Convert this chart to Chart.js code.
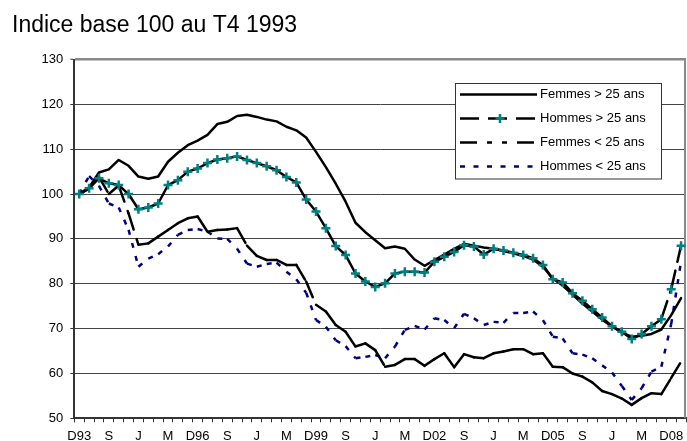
<!DOCTYPE html>
<html lang="fr">
<head>
<meta charset="UTF-8">
<title>Indice base 100 au T4 1993</title>
<script src="https://cdn.jsdelivr.net/npm/chart.js"></script>
<style>
  html, body { margin: 0; padding: 0; background: #fff; overflow: hidden; }
</style>
</head>
<body>
<!-- le canevas dépasse un peu à droite : le bord du tracé tombe au bord de la fenêtre -->
<canvas id="graphique" width="693" height="441"></canvas>

<script>
// libellés de l'axe horizontal : un trimestre sur trois, de D93 à D08
const etiquettes = ['D93', 'S', 'J', 'M', 'D96', 'S', 'J', 'M', 'D99', 'S', 'J', 'M',
                    'D02', 'S', 'J', 'M', 'D05', 'S', 'J', 'M', 'D08'];
// 62 trimestres : T4 1993 -> T1 2009
const nbTrimestres = 62;

const femmesPlus25 = [100, 101.5, 104.8, 105.5, 107.6, 106.3, 103.9, 103.4, 103.9, 107.2,
  109.2, 110.9, 111.9, 113.2, 115.6, 116.1, 117.4, 117.7, 117.2, 116.6,
  116.2, 115.0, 114.2, 112.6, 109.4, 106.0, 102.3, 98.3, 93.6, 91.5,
  89.7, 87.9, 88.3, 87.8, 85.4, 84.0, 85.3, 86.5, 87.8, 88.9,
  88.5, 88.1, 87.8, 87.3, 86.8, 86.2, 85.4, 83.8, 81.2, 79.6,
  77.6, 75.6, 73.8, 72.0, 70.5, 69.1, 68.2, 68.4, 68.8, 69.8,
  73.0, 76.8];

const hommesPlus25 = [100, 101.3, 103.5, 102.4, 102.0, 100.0, 96.6, 97.0, 97.9, 102.0,
  103.1, 105.0, 105.7, 106.9, 107.7, 108.0, 108.4, 107.6, 106.9, 106.2,
  105.3, 103.8, 102.6, 98.8, 96.1, 92.4, 88.4, 86.4, 82.3, 80.5,
  79.3, 80.1, 82.3, 82.7, 82.7, 82.5, 84.9, 86.0, 87.1, 88.6,
  88.3, 86.5, 87.8, 87.4, 86.9, 86.4, 85.7, 84.2, 81.0, 80.3,
  77.9, 76.2, 74.3, 72.5, 70.5, 69.3, 67.7, 68.8, 70.5, 72.1,
  78.8, 88.5];

const femmesMoins25 = [100, 101.2, 103.8, 100.0, 101.9, 95.7, 88.7, 89.0, 90.5, 92.0,
  93.5, 94.6, 95.0, 91.6, 92.0, 92.1, 92.4, 88.5, 86.2, 85.3,
  85.3, 84.2, 84.2, 80.5, 75.3, 73.8, 70.8, 69.3, 66.0, 66.7,
  65.2, 61.5, 61.9, 63.2, 63.2, 61.7, 63.2, 64.5, 61.4, 64.3,
  63.6, 63.4, 64.5, 64.9, 65.4, 65.4, 64.3, 64.5, 61.5, 61.4,
  60.0, 59.3, 58.0, 56.1, 55.4, 54.4, 53.0, 54.5, 55.6, 55.4,
  59.0, 62.6];

const hommesMoins25 = [100, 104.0, 101.8, 97.9, 97.0, 92.0, 83.8, 85.6, 86.6, 88.3,
  90.9, 92.0, 92.2, 91.6, 90.1, 90.0, 87.8, 84.5, 83.8, 84.4,
  84.7, 82.7, 81.0, 78.0, 71.9, 70.4, 67.4, 66.1, 63.4, 63.7,
  64.1, 63.4, 66.0, 69.7, 70.6, 69.8, 72.3, 71.9, 70.1, 73.3,
  72.3, 70.8, 71.5, 71.3, 73.5, 73.5, 73.8, 71.9, 68.2, 67.8,
  64.5, 64.2, 63.4, 61.8, 60.2, 57.2, 54.1, 56.7, 60.4, 61.5,
  71.0, 85.0];

// une étiquette tous les 3 trimestres
const trimestres = [];
for (let i = 0; i < nbTrimestres; i++) {
  trimestres.push(i % 3 === 0 ? etiquettes[i / 3] : '');
}

// comme dans Excel, le motif du pointillé repart à chaque segment
const motifParSegment = { borderDashOffset: c => (c.p0DataIndex % 2) * 0.01 };

const police = '"Liberation Sans", Arial, sans-serif';

// légende encadrée dans la zone du graphique
const legendeCadre = {
  id: 'legendeCadre',
  afterDatasetsDraw(chart) {
    const ctx = chart.ctx;
    ctx.save();
    ctx.fillStyle = '#fff';
    ctx.fillRect(455.5, 83.5, 206, 95.5);
    ctx.strokeStyle = '#333';
    ctx.lineWidth = 1;
    ctx.setLineDash([]);
    ctx.strokeRect(455.5, 83.5, 206, 95.5);

    chart.data.datasets.forEach((ds, i) => {
      const y = 94.5 + i * 24;
      ctx.beginPath();
      ctx.setLineDash(ds.borderDash || []);
      ctx.lineWidth = ds.borderWidth;
      ctx.strokeStyle = ds.borderColor;
      ctx.lineCap = 'butt';
      ctx.moveTo(460, y);
      ctx.lineTo(537, y);
      ctx.stroke();
      if (ds.pointStyle === 'cross') {
        ctx.setLineDash([]);
        ctx.strokeStyle = ds.pointBorderColor;
        ctx.lineWidth = ds.pointBorderWidth;
        ctx.beginPath();
        ctx.moveTo(500 - 4.5, y); ctx.lineTo(500 + 4.5, y);
        ctx.moveTo(500, y - 4.5); ctx.lineTo(500, y + 4.5);
        ctx.stroke();
      }
      ctx.fillStyle = '#000';
      ctx.font = '13px ' + police;
      ctx.textBaseline = 'middle';
      ctx.textAlign = 'left';
      ctx.fillText(ds.label, 540, y);
    });
    ctx.restore();
  }
};

// bord droit gris de la zone de tracé
const bordDroit = {
  id: 'bordDroit',
  beforeDatasetsDraw(chart) {
    const a = chart.chartArea;
    const ctx = chart.ctx;
    ctx.save();
    ctx.strokeStyle = '#888';
    ctx.lineWidth = 2;
    ctx.beginPath();
    ctx.moveTo(a.right - 1, a.top);
    ctx.lineTo(a.right - 1, a.bottom);
    ctx.stroke();
    ctx.restore();
  }
};

new Chart(document.getElementById('graphique'), {
  type: 'line',
  data: {
    labels: trimestres,
    datasets: [
      {
        label: 'Femmes > 25 ans',
        data: femmesPlus25,
        borderColor: '#000',
        borderWidth: 2.5,
        borderJoinStyle: 'round',
        borderCapStyle: 'round',
        pointRadius: 0,
        order: 1
      },
      {
        label: 'Hommes > 25 ans',
        data: hommesPlus25,
        borderColor: '#000',
        borderWidth: 2.5,
        borderDash: [19, 9],
        borderCapStyle: 'round',
        segment: motifParSegment,
        pointStyle: 'cross',
        pointRadius: 4.5,
        pointBorderColor: '#008080',
        pointBorderWidth: 2.5,
        order: 0
      },
      {
        label: 'Femmes < 25 ans',
        data: femmesMoins25,
        borderColor: '#000',
        borderWidth: 2.5,
        borderDash: [17, 10, 5, 10, 5, 10],
        borderCapStyle: 'round',
        segment: motifParSegment,
        pointRadius: 0,
        order: 2
      },
      {
        label: 'Hommes < 25 ans',
        data: hommesMoins25,
        borderColor: '#000080',
        borderWidth: 2.5,
        borderDash: [5, 8.5],
        segment: motifParSegment,
        pointRadius: 0,
        order: 3
      }
    ]
  },
  options: {
    responsive: false,
    animation: false,
    events: [],
    devicePixelRatio: 1,
    layout: { padding: { left: 12, right: 1, top: 0, bottom: 0 } },
    elements: { line: { tension: 0 } },
    plugins: {
      legend: { display: false },
      tooltip: { enabled: false },
      title: {
        display: true,
        text: 'Indice base 100 au T4 1993',
        align: 'start',
        color: '#000',
        font: { family: police, size: 23, weight: 'normal' },
        padding: { top: 12, bottom: 19.9 }
      }
    },
    scales: {
      x: {
        offset: true,
        afterFit: s => { s.height = 22.7; },
        grid: {
          offset: true,
          drawOnChartArea: false,
          drawTicks: true,
          tickLength: 4,
          color: '#333'
        },
        border: { display: true, color: '#333', width: 2 },
        ticks: {
          autoSkip: false,
          maxRotation: 0,
          minRotation: 0,
          padding: 6,
          color: '#000',
          font: { family: police, size: 13 }
        }
      },
      y: {
        min: 50,
        max: 130,
        afterFit: s => { s.width = 62.3; },
        grid: {
          color: c => (c.tick && c.tick.value === 130 ? '#888' : '#444'),
          lineWidth: c => (c.tick && c.tick.value === 130 ? 2.5 : 1),
          tickColor: '#333',
          tickWidth: 1,
          tickLength: 4
        },
        border: { display: true, color: '#333', width: 2 },
        ticks: {
          stepSize: 10,
          padding: 7,
          color: '#000',
          font: { family: police, size: 13 }
        }
      }
    }
  },
  plugins: [bordDroit, legendeCadre]
});
</script>
</body>
</html>
